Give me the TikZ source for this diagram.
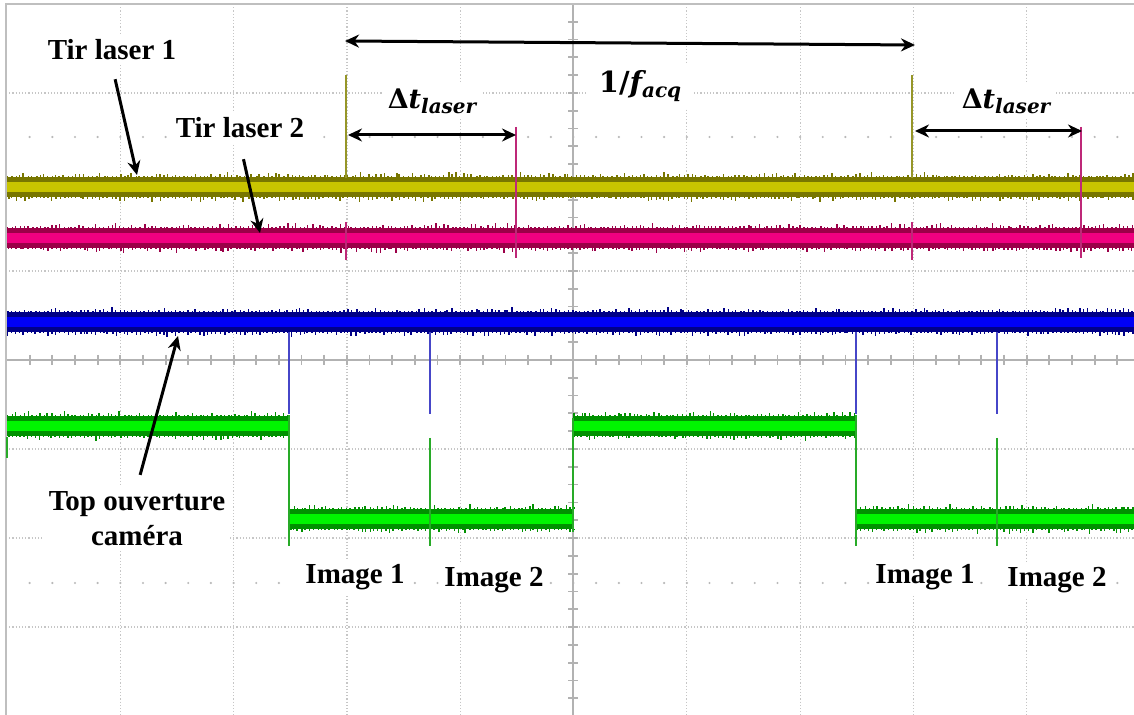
\documentclass[tikz,border=0pt]{standalone}
\usepackage{fontspec}
\setmainfont{Liberation Serif}
\newfontfamily\cambrialike{DejaVu Serif}
\usetikzlibrary{arrows.meta}
\definecolor{yeldark}{RGB}{120,118,0}
\definecolor{yelbright}{RGB}{200,196,0}
\definecolor{yelspike}{RGB}{150,150,40}
\definecolor{pnkdark}{RGB}{155,0,72}
\definecolor{pnkbright}{RGB}{240,0,128}
\definecolor{pnkspike}{RGB}{190,40,120}
\definecolor{bludark}{RGB}{0,0,135}
\definecolor{blubright}{RGB}{0,0,245}
\definecolor{bluspike}{RGB}{70,70,200}
\definecolor{grndark}{RGB}{0,145,0}
\definecolor{grnbright}{RGB}{0,245,0}
\definecolor{grnspike}{RGB}{40,170,40}
\tikzstyle{tagtext} = [font=\bfseries\fontsize{14.5}{17.5}\selectfont, fill=white, inner sep=2.5pt, align=center]
\tikzstyle{mathtag} = [font=\cambrialike\bfseries\fontsize{13.5}{16}\selectfont, fill=white, inner sep=3pt]
\tikzstyle{pointer} = [line width=1.5pt, ->, >={Stealth[length=7pt,width=6.5pt]}]
\tikzstyle{spanarrow} = [line width=1.5pt, <->, >={Stealth[length=7pt,width=6.5pt]}]
\tikzstyle{gridline} = [gray!45, line width=0.6pt, densely dotted]
\tikzstyle{centreaxis} = [gray!60, line width=0.9pt]
\tikzstyle{pulse} = [line width=0.8pt]
% lowered index for the timing labels
\newcommand{\lowered}[1]{\raisebox{-0.35ex}{\fontsize{10}{11}\selectfont\itshape #1}}
% one noisy scope trace: x from, x to, y, edge colour, core colour
\newcommand{\drawtrace}[5]{%
  \fill[#4] (#1,#3-10) rectangle (#2,#3+10);
  \fill[#5] (#1,#3-5) rectangle (#2,#3+5);
  \pgfmathtruncatemacro{\nspk}{(#2-#1)/4}
  \foreach \k in {0,...,\nspk}{
    \draw[#4, line width=0.7pt] ({#1+4*\k+2*rnd},#3-10) -- ++(0,{-0.5-5*rnd*rnd});
    \draw[#4, line width=0.7pt] ({#1+4*\k+2*rnd},#3+10) -- ++(0,{0.5+5*rnd*rnd});
  }
}

\begin{document}
\begin{tikzpicture}[x=0.5pt, y=-0.5pt]
	\pgfmathsetseed{7}
	\useasboundingbox (0,0) rectangle (1134,715);
	\fill[white] (0,0) rectangle (1134,715);

	% graticule
	\foreach \i in {1,2,3,4,6,7,8,9}
		\draw[gridline] ({7+113.3*\i},4) -- ({7+113.3*\i},715);
	\foreach \j in {1,2,3,5,6,7}
		\draw[gridline] (6,{4+89*\j}) -- (1134,{4+89*\j});
	\foreach \k in {1,...,49} {
		\fill[gray!55] ({7+22.66*\k},137) circle (0.6pt);
		\fill[gray!55] ({7+22.66*\k},583) circle (0.6pt);
		\draw[centreaxis] ({7+22.66*\k},355) -- ({7+22.66*\k},365);
	}
	\foreach \k in {1,...,39}
		\draw[centreaxis] (568,{4+17.8*\k}) -- (578,{4+17.8*\k});
	\draw[centreaxis] (6,360) -- (1134,360);
	\draw[centreaxis] (573,4) -- (573,715);
	\draw[gray!50, line width=1pt] (6,715) -- (6,4) -- (1134,4);

	% traces
	\drawtrace{7}{1134}{187}{yeldark}{yelbright}
	\drawtrace{7}{1134}{238}{pnkdark}{pnkbright}
	\drawtrace{7}{1134}{322}{bludark}{blubright}
	\drawtrace{7}{289}{426}{grndark}{grnbright}
	\drawtrace{289}{573}{519}{grndark}{grnbright}
	\drawtrace{573}{856}{426}{grndark}{grnbright}
	\drawtrace{856}{1134}{519}{grndark}{grnbright}

	% pulses
	\foreach \x in {346,912}
		\draw[pulse, yelspike] (\x,178) -- (\x,75);
	\foreach \x in {516,1081} {
		\draw[pulse, pnkspike] (\x,127) -- (\x,258);
	}
	\foreach \x in {346,912}
		\draw[pulse, pnkspike] (\x,222) -- (\x,260);
	\foreach \x in {289,430,856,997}
		\draw[pulse, bluspike] (\x,332) -- (\x,414);
	\foreach \x in {289,856}
		\draw[pulse, grnspike] (\x,415) -- (\x,546);
	\draw[pulse, grnspike] (573,418) -- (573,532);
	\foreach \x in {430,997}
		\draw[pulse, grnspike] (\x,438) -- (\x,546);
	\draw[pulse, grnspike] (7,437) -- (7,458);

	% labels
	\node (tir1) [tagtext] at (112,50) {Tir laser 1};
	\node (tir2) [tagtext] at (240,128) {Tir laser 2};
	\node (camtop) [tagtext] at (137,519) {Top ouverture\\cam\'era};
	\node (facq) [mathtag, inner xsep=6pt, font=\cambrialike\bfseries\fontsize{14.5}{17}\selectfont] at (640,86) {1/{\itshape f}\lowered{acq}};
	\node (dtA) [mathtag] at (432,101) {Δ{\itshape t}\lowered{laser}};
	\node (dtB) [mathtag] at (1006,101) {Δ{\itshape t}\lowered{laser}};
	\node (imgA1) [tagtext] at (355,577) {Image 1};
	\node (imgA2) [tagtext] at (494,580) {Image 2};
	\node (imgB1) [tagtext] at (925,577) {Image 1};
	\node (imgB2) [tagtext] at (1057,580) {Image 2};

	\coordinate (yel) at (137,175);
	\coordinate (pnk) at (260,233);
	\coordinate (blu) at (178,336);
	\coordinate (facqL) at (345,41);
	\coordinate (facqR) at (915,45);
	\coordinate (dtAL) at (348,135);
	\coordinate (dtAR) at (516,135);
	\coordinate (dtBL) at (915,131);
	\coordinate (dtBR) at (1082,131);

	\draw [pointer, shorten <=7pt] (tir1.south) -- (yel);
	\draw [pointer, shorten <=8pt] (tir2.south) -- (pnk);
	\draw [pointer, shorten <=6pt] (camtop.north) -- (blu);
	\draw [spanarrow] (facqL) -- (facqR);
	\draw [spanarrow] (dtAL) -- (dtAR);
	\draw [spanarrow] (dtBL) -- (dtBR);
\end{tikzpicture}
\end{document}
